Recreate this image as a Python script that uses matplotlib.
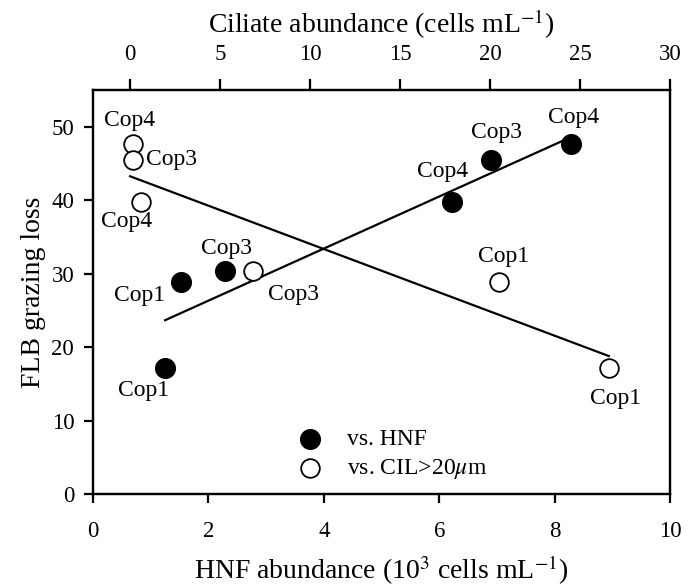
import numpy as np
import matplotlib
matplotlib.use("Agg")
import matplotlib.pyplot as plt

plt.rcParams['font.family'] = ['Liberation Serif', 'DejaVu Serif']
plt.rcParams['mathtext.fontset'] = 'stix'

# FLB grazing loss vs HNF abundance (10^3 cells/mL)
hnf_x = [1.25, 1.52, 2.28, 6.22, 6.89, 8.28]
hnf_y = [17.1, 28.8, 30.4, 39.7, 45.5, 47.6]
hnf_lab = ["Cop1", "Cop1", "Cop3", "Cop4", "Cop3", "Cop4"]

# FLB grazing loss vs ciliate >20um abundance (cells/mL)
cil_x = [0.15, 0.15, 0.59, 6.82, 20.5, 26.6]
cil_y = [47.6, 45.5, 39.7, 30.4, 28.8, 17.1]
cil_lab = ["Cop4", "Cop3", "Cop4", "Cop3", "Cop1", "Cop1"]

# label offsets (pixels) relative to each point
hnf_off = [(-22, -22), (-41, -13), (2, 22), (-9, 31), (6, 27), (3, 27)]
cil_off = [(-3, 24), (39, 0), (-14, -19), (41, -24), (5, 26), (7, -30)]

fig = plt.figure(figsize=(6.99, 5.86), dpi=100)
ax = fig.add_subplot(111)
fig.subplots_adjust(left=93/699, right=670/699, bottom=1-494/586, top=1-90/586)
ax2 = ax.twiny()

h1 = ax.scatter(hnf_x, hnf_y, s=200, c='black', edgecolors='black', zorder=3, label='vs. HNF')
h2 = ax2.scatter(cil_x, cil_y, s=180, facecolors='white', edgecolors='black', linewidths=1.3,
                 zorder=3, label=r'vs. CIL>20$\mu$m')

# linear regressions
p1 = np.polyfit(hnf_x, hnf_y, 1)
xx1 = np.array([min(hnf_x), max(hnf_x)])
ax.plot(xx1, np.polyval(p1, xx1), color='black', lw=1.6, zorder=2)
p2 = np.polyfit(cil_x, cil_y, 1)
xx2 = np.array([0, max(cil_x)])
ax2.plot(xx2, np.polyval(p2, xx2), color='black', lw=1.6, zorder=2)

for x, y, t, o in zip(hnf_x, hnf_y, hnf_lab, hnf_off):
    ax.annotate(t, (x, y), xytext=o, textcoords='offset pixels', ha='center', va='center', fontsize=17)
for x, y, t, o in zip(cil_x, cil_y, cil_lab, cil_off):
    ax2.annotate(t, (x, y), xytext=o, textcoords='offset pixels', ha='center', va='center', fontsize=17)

ax.set_xlim(0, 10)
ax.set_ylim(0, 55)
ax.set_xticks(np.arange(0, 11, 2))
ax.set_yticks(np.arange(0, 51, 10))
ax2.set_xlim(-2.06, 30)
ax2.set_xticks(np.arange(0, 31, 5))

for a in (ax, ax2):
    for sp in a.spines.values():
        sp.set_linewidth(1.6)
    a.tick_params(direction='out', length=6.5, width=1.6, labelsize=16.5)
ax.tick_params(axis='x', pad=13)
ax.tick_params(axis='y', pad=7)
ax2.tick_params(axis='x', length=8, pad=10)

ax.set_xlabel(r'HNF abundance (10$^3$ cells mL$^{-1}$)', fontsize=20, labelpad=8)
ax.set_ylabel('FLB grazing loss', fontsize=20, labelpad=4)
ax2.set_xlabel(r'Ciliate abundance (cells mL$^{-1}$)', fontsize=20, labelpad=8)

ax.legend(handles=[h1, h2], loc='center left', bbox_to_anchor=(0.314, 0.097), frameon=False,
          fontsize=17, handletextpad=0.6, labelspacing=0.3, borderpad=0)

fig.savefig('out.png', dpi=100)
